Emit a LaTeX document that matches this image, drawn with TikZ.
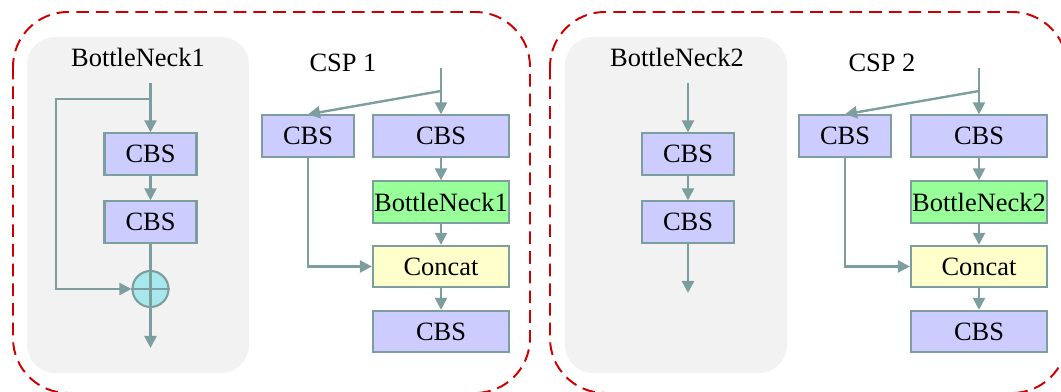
\documentclass[tikz,border=0pt]{standalone}
\usepackage{fontspec}
\setmainfont{Liberation Serif}
\usetikzlibrary{arrows.meta}
\definecolor{edgegrey}{RGB}{125,158,158}
\definecolor{cbsblue}{RGB}{204,204,255}
\definecolor{bngreen}{RGB}{153,255,153}
\definecolor{catyellow}{RGB}{255,255,204}
\definecolor{sumcyan}{RGB}{166,232,236}
\definecolor{panelgrey}{RGB}{242,242,242}
\definecolor{framered}{RGB}{204,0,0}
\tikzset{
  lbl/.style={font=\fontsize{18.8}{21}\selectfont},
  blk/.style={lbl, draw=edgegrey, line width=1.5pt, inner sep=0pt, minimum height=1.03cm},
  cbs/.style={blk, fill=cbsblue, minimum width=2.3cm},
  wide/.style={blk, minimum width=3.4cm},
  flow/.style={draw=edgegrey, line width=1.7pt, -{Triangle[length=0.3cm,width=0.3cm]}},
  wire/.style={draw=edgegrey, line width=1.7pt},
  panel/.style={fill=panelgrey, rounded corners=0.7cm},
  frame/.style={draw=framered, line width=1.4pt, dash pattern=on 9pt off 5pt, rounded corners=1.37cm}
}
\begin{document}
\begin{tikzpicture}[x=0.025cm, y=-0.025cm]
                \useasboundingbox (0,0) rectangle (1061,392);
                
                % Frames and panels
                \draw [frame] (13,12) rectangle (530,393);
                \draw [frame] (550,12) rectangle (1067,393);
                \fill [panel] (27,37) rectangle (249,373);
                \fill [panel] (565,37) rectangle (787,373);
                
                % BottleNeck1 block
                \node [lbl] (bnTitleA) at (138,57) {BottleNeck1};
                \coordinate (bnInA) at (150.5,83);
                \coordinate (bnTapA) at (150.5,99);
                \coordinate (bnOutA) at (150.5,348);
                \node [cbs] (bnCbsA) at (150.5,154) {CBS};
                \node [cbs] (bnCbsB) at (150.5,222) {CBS};
                \node [circle, draw=edgegrey, fill=sumcyan, line width=1.5pt, minimum size=0.9cm, inner sep=0pt] (bnSum) at (150.5,289) {};
                \draw [wire] (bnSum.north) -- (bnSum.south);
                \draw [wire] (bnSum.west) -- (bnSum.east);
                \draw [flow] (bnInA) -- (bnCbsA.north);
                \draw [flow] (bnCbsA) -- (bnCbsB);
                \draw [wire] (bnCbsB.south) -- (bnSum.north);
                \draw [flow] (bnTapA) -| (56,289) -- (bnSum.west);
                \draw [flow] (bnSum.south) -- (bnOutA);
                
                % CSP 1 block
                \node [lbl] (cspTitleA) at (343,63) {CSP 1};
                \coordinate (cspInA) at (441,68);
                \coordinate (cspSplitA) at (441,91);
                \node [cbs] (cspSideA) at (308,136) {CBS};
                \node [wide, fill=cbsblue] (cspCbsA) at (441,136) {CBS};
                \node [wide, fill=bngreen] (cspBnA) at (441,202) {BottleNeck1};
                \node [wide, fill=catyellow] (cspCatA) at (441,266.5) {Concat};
                \node [wide, fill=cbsblue] (cspOutA) at (441,331.5) {CBS};
                \draw [flow] (cspInA) -- (cspCbsA.north);
                \draw [flow] (cspSplitA) -- (cspSideA.north);
                \draw [flow] (cspCbsA) -- (cspBnA);
                \draw [flow] (cspBnA) -- (cspCatA);
                \draw [flow] (cspCatA) -- (cspOutA);
                \draw [flow] (cspSideA.south) |- (cspCatA.west);
                
                % BottleNeck2 block
                \node [lbl] (bnTitleB) at (677,57) {BottleNeck2};
                \coordinate (bnInB) at (688,83);
                \coordinate (bnOutB) at (688,293);
                \node [cbs] (bnCbsC) at (688,154) {CBS};
                \node [cbs] (bnCbsD) at (688,222) {CBS};
                \draw [flow] (bnInB) -- (bnCbsC.north);
                \draw [flow] (bnCbsC) -- (bnCbsD);
                \draw [flow] (bnCbsD.south) -- (bnOutB);
                
                % CSP 2 block
                \node [lbl] (cspTitleB) at (882,63) {CSP 2};
                \coordinate (cspInB) at (979,68);
                \coordinate (cspSplitB) at (979,91);
                \node [cbs] (cspSideB) at (845,136) {CBS};
                \node [wide, fill=cbsblue] (cspCbsB) at (979,136) {CBS};
                \node [wide, fill=bngreen] (cspBnB) at (979,202) {BottleNeck2};
                \node [wide, fill=catyellow] (cspCatB) at (979,266.5) {Concat};
                \node [wide, fill=cbsblue] (cspOutB) at (979,331.5) {CBS};
                \draw [flow] (cspInB) -- (cspCbsB.north);
                \draw [flow] (cspSplitB) -- (cspSideB.north);
                \draw [flow] (cspCbsB) -- (cspBnB);
                \draw [flow] (cspBnB) -- (cspCatB);
                \draw [flow] (cspCatB) -- (cspOutB);
                \draw [flow] (cspSideB.south) |- (cspCatB.west);
\end{tikzpicture}
\end{document}
